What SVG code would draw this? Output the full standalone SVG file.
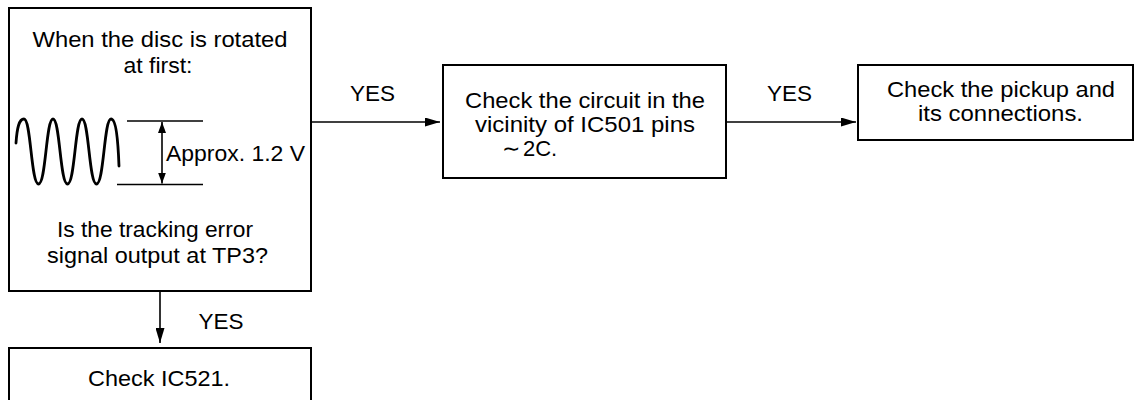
<svg xmlns="http://www.w3.org/2000/svg" width="1136" height="400" viewBox="0 0 1136 400">
  <defs>
    <style>
      .box { fill: #fff; stroke: #000; stroke-width: 2; }
      .t { font-family: "Liberation Sans", Arial, sans-serif; font-size: 22px; fill: #000; }
      .c { text-anchor: middle; }
      .ln { stroke: #000; stroke-width: 1.6; fill: none; }
    </style>
    <marker id="ah" markerUnits="userSpaceOnUse" markerWidth="15" markerHeight="9" refX="15" refY="4.5" orient="auto">
      <path d="M0,0 L15,4.5 L0,9 z" fill="#000"/>
    </marker>
    <marker id="sh" markerUnits="userSpaceOnUse" markerWidth="11" markerHeight="8" refX="11" refY="4" orient="auto-start-reverse">
      <path d="M0,0 L11,4 L0,8 z" fill="#000"/>
    </marker>
  </defs>
  <rect width="1136" height="400" fill="#fff"/>

  <g id="n-question">
    <rect class="box" x="9" y="8" width="302" height="283"/>
    <text class="t c" x="160" y="47" textLength="255" lengthAdjust="spacingAndGlyphs">When the disc is rotated</text>
    <text class="t c" x="158" y="73" textLength="69" lengthAdjust="spacingAndGlyphs">at first:</text>
    <path d="M16,143 C17,128 19,119 24,119 C31,119 31,184 38.5,184 C46,184 46,119 53,119 C60,119 60,184 67.5,184 C75,184 75,119 82,119 C89,119 89,184 96.5,184 C104,184 104,119 111,119 C116,119 118,140 119,166" fill="none" stroke="#000" stroke-width="2.8" stroke-linecap="round"/>
    <line class="ln" x1="127" y1="121" x2="203" y2="121"/>
    <line class="ln" x1="117" y1="184.5" x2="203" y2="184.5"/>
    <line class="ln" x1="162" y1="122" x2="162" y2="183.5" marker-start="url(#sh)" marker-end="url(#sh)"/>
    <text class="t" x="166" y="161" textLength="139" lengthAdjust="spacingAndGlyphs">Approx. 1.2 V</text>
    <text class="t c" x="155" y="237" textLength="196" lengthAdjust="spacingAndGlyphs">Is the tracking error</text>
    <text class="t c" x="157.5" y="263" textLength="221" lengthAdjust="spacingAndGlyphs">signal output at TP3?</text>
  </g>

  <g id="n-circuit">
    <rect class="box" x="443" y="65" width="283" height="113"/>
    <text class="t c" x="585" y="108" textLength="240" lengthAdjust="spacingAndGlyphs">Check the circuit in the</text>
    <text class="t c" x="585" y="132" textLength="220" lengthAdjust="spacingAndGlyphs">vicinity of IC501 pins</text>
    <text class="t" x="502" y="156"><tspan font-family="DejaVu Sans, sans-serif" font-size="22">∼</tspan> <tspan x="523">2C.</tspan></text>
  </g>

  <g id="n-pickup">
    <rect class="box" x="858" y="65" width="275" height="75"/>
    <text class="t c" x="1001" y="97" textLength="228" lengthAdjust="spacingAndGlyphs">Check the pickup and</text>
    <text class="t c" x="1000.5" y="121" textLength="165" lengthAdjust="spacingAndGlyphs">its connections.</text>
  </g>

  <g id="n-ic521">
    <rect class="box" x="9" y="348" width="302" height="80"/>
    <text class="t c" x="159" y="386" textLength="142" lengthAdjust="spacingAndGlyphs">Check IC521.</text>
  </g>

  <g id="connectors">
    <line class="ln" x1="311" y1="122" x2="440" y2="122" marker-end="url(#ah)"/>
    <text class="t c" x="372.5" y="101" textLength="45" lengthAdjust="spacingAndGlyphs">YES</text>
    <line class="ln" x1="726" y1="122" x2="856" y2="122" marker-end="url(#ah)"/>
    <text class="t c" x="789.5" y="101" textLength="45" lengthAdjust="spacingAndGlyphs">YES</text>
    <line class="ln" x1="160" y1="291" x2="160" y2="343" marker-end="url(#ah)"/>
    <text class="t c" x="221" y="329" textLength="45" lengthAdjust="spacingAndGlyphs">YES</text>
  </g>
</svg>
